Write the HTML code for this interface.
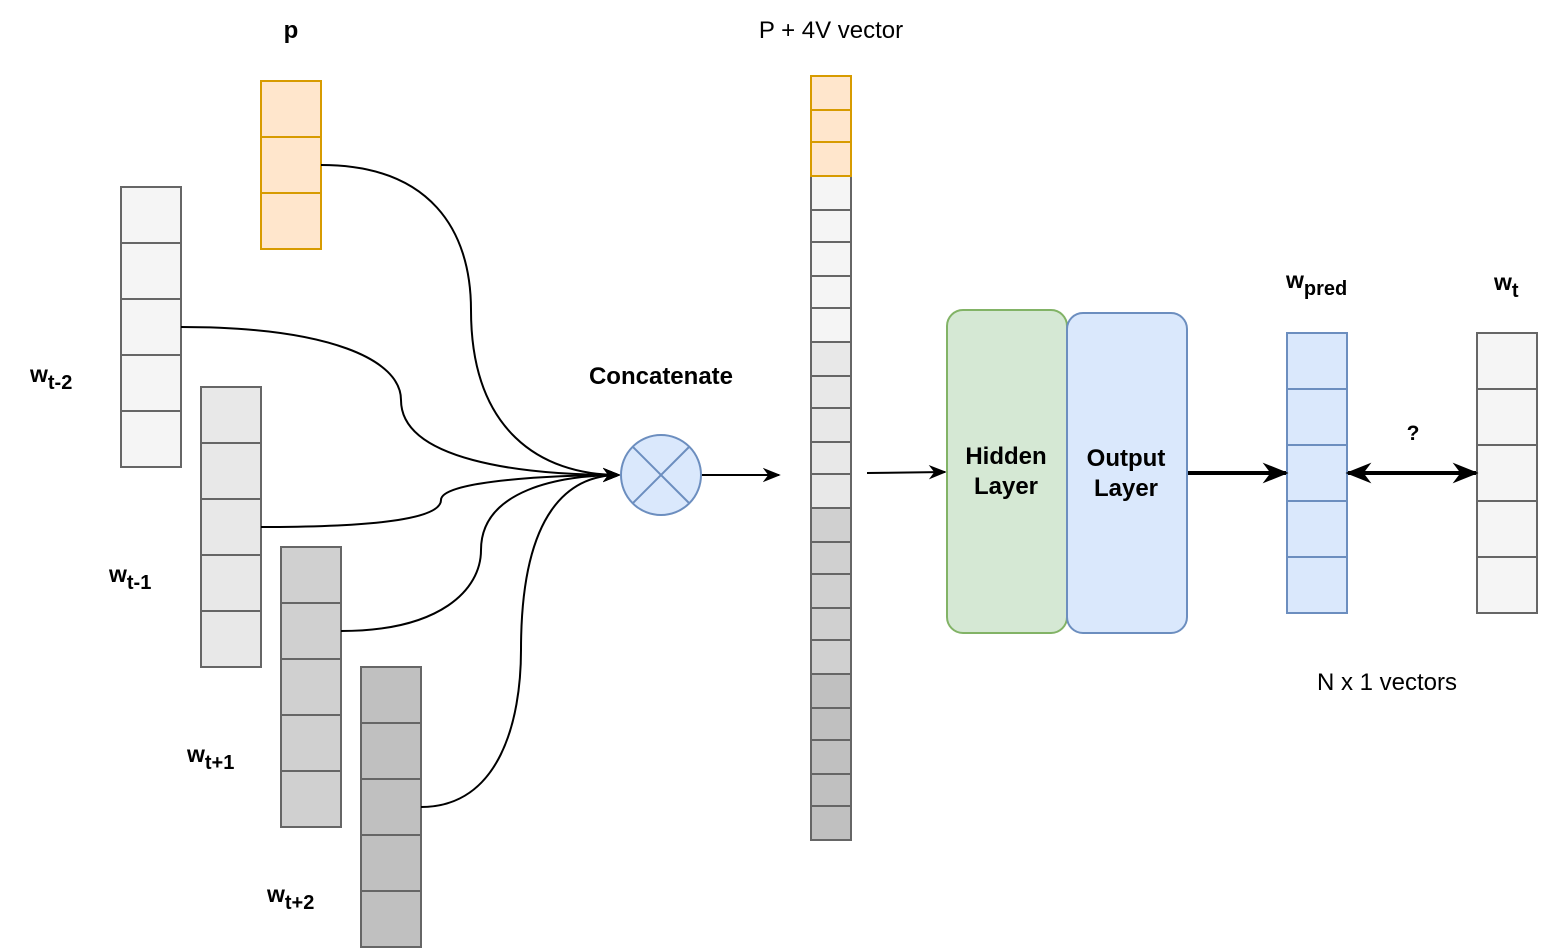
<!DOCTYPE html>
<html><head><meta charset="utf-8"><style>body{margin:0;background:#fff}svg{display:block}text{font-family:"Liberation Sans",Arial,sans-serif}</style></head><body>
<svg width="1548" height="948" viewBox="0 0 1548 948" xmlns="http://www.w3.org/2000/svg">
<defs>
<marker id="a" viewBox="0 0 10 10" refX="9" refY="5" markerWidth="18" markerHeight="18" orient="auto" markerUnits="userSpaceOnUse"><path d="M0,1 L10,5 L0,9 L3,5 z" fill="#000"/></marker>
<marker id="a2" viewBox="0 0 10 10" refX="9" refY="5" markerWidth="26" markerHeight="26" orient="auto-start-reverse" markerUnits="userSpaceOnUse"><path d="M0,1 L10,5 L0,9 L3,5 z" fill="#000"/></marker>
<marker id="a1" viewBox="0 0 10 10" refX="9" refY="5" markerWidth="26" markerHeight="26" orient="auto" markerUnits="userSpaceOnUse"><path d="M0,1 L10,5 L0,9 L3,5 z" fill="#000"/></marker>
</defs>
<g stroke="#666" stroke-width="2">
<g fill="#f5f5f5"><rect x="121" y="187" width="60" height="56"/><rect x="121" y="243" width="60" height="56"/><rect x="121" y="299" width="60" height="56"/><rect x="121" y="355" width="60" height="56"/><rect x="121" y="411" width="60" height="56"/></g>
<g fill="#e8e8e8"><rect x="201" y="387" width="60" height="56"/><rect x="201" y="443" width="60" height="56"/><rect x="201" y="499" width="60" height="56"/><rect x="201" y="555" width="60" height="56"/><rect x="201" y="611" width="60" height="56"/></g>
<g fill="#d0d0d0"><rect x="281" y="547" width="60" height="56"/><rect x="281" y="603" width="60" height="56"/><rect x="281" y="659" width="60" height="56"/><rect x="281" y="715" width="60" height="56"/><rect x="281" y="771" width="60" height="56"/></g>
<g fill="#c0c0c0"><rect x="361" y="667" width="60" height="56"/><rect x="361" y="723" width="60" height="56"/><rect x="361" y="779" width="60" height="56"/><rect x="361" y="835" width="60" height="56"/><rect x="361" y="891" width="60" height="56"/></g>
</g>
<g stroke="#d79b00" stroke-width="2" fill="#ffe6cc"><rect x="261" y="81" width="60" height="56"/><rect x="261" y="137" width="60" height="56"/><rect x="261" y="193" width="60" height="56"/></g>
<g stroke="#666" stroke-width="2">
<g fill="#f5f5f5"><rect x="811" y="176" width="40" height="34"/><rect x="811" y="210" width="40" height="32"/><rect x="811" y="242" width="40" height="34"/><rect x="811" y="276" width="40" height="32"/><rect x="811" y="308" width="40" height="34"/></g>
<g fill="#e8e8e8"><rect x="811" y="342" width="40" height="34"/><rect x="811" y="376" width="40" height="32"/><rect x="811" y="408" width="40" height="34"/><rect x="811" y="442" width="40" height="32"/><rect x="811" y="474" width="40" height="34"/></g>
<g fill="#d0d0d0"><rect x="811" y="508" width="40" height="34"/><rect x="811" y="542" width="40" height="32"/><rect x="811" y="574" width="40" height="34"/><rect x="811" y="608" width="40" height="32"/><rect x="811" y="640" width="40" height="34"/></g>
<g fill="#c0c0c0"><rect x="811" y="674" width="40" height="34"/><rect x="811" y="708" width="40" height="32"/><rect x="811" y="740" width="40" height="34"/><rect x="811" y="774" width="40" height="32"/><rect x="811" y="806" width="40" height="34"/></g>
</g>
<g stroke="#d79b00" stroke-width="2" fill="#ffe6cc"><rect x="811" y="76" width="40" height="34"/><rect x="811" y="110" width="40" height="32"/><rect x="811" y="142" width="40" height="34"/></g>
<g fill="none" stroke="#000" stroke-width="2">
<path d="M321,165 C430,165 471,230 471,310 C471,430 540,475 619,475" marker-end="url(#a)"/>
<path d="M181,327 C330,327 401,360 401,400 C401,460 520,475 619,475" marker-end="url(#a)"/>
<path d="M261,527 C400,527 441,515 441,500 C441,480 560,475 619,475" marker-end="url(#a)"/>
<path d="M341,631 C440,631 481,590 481,550 C481,490 560,475 619,475" marker-end="url(#a)"/>
<path d="M421,807 C500,807 521,720 521,650 C521,510 570,475 619,475" marker-end="url(#a)"/>
<path d="M701,475 L779,475" marker-end="url(#a)"/>
<path d="M867,473 L945,472" marker-end="url(#a)"/>
</g>
<circle cx="661" cy="475" r="40" fill="#dae8fc" stroke="#6c8ebf" stroke-width="2"/>
<path d="M633,447 L689,503 M689,447 L633,503" stroke="#6c8ebf" stroke-width="2"/>
<rect x="947" y="310" width="120" height="323" rx="16" fill="#d5e8d4" stroke="#82b366" stroke-width="2"/>
<rect x="1067" y="313" width="120" height="320" rx="16" fill="#dae8fc" stroke="#6c8ebf" stroke-width="2"/>
<g stroke="#6c8ebf" stroke-width="2" fill="#dae8fc"><rect x="1287" y="333" width="60" height="56"/><rect x="1287" y="389" width="60" height="56"/><rect x="1287" y="445" width="60" height="56"/><rect x="1287" y="501" width="60" height="56"/><rect x="1287" y="557" width="60" height="56"/></g>
<g stroke="#666" stroke-width="2" fill="#f5f5f5"><rect x="1477" y="333" width="60" height="56"/><rect x="1477" y="389" width="60" height="56"/><rect x="1477" y="445" width="60" height="56"/><rect x="1477" y="501" width="60" height="56"/><rect x="1477" y="557" width="60" height="56"/></g>
<path d="M1188,473 L1286,473" stroke="#000" stroke-width="4" marker-end="url(#a1)"/>
<path d="M1348,473 L1476,473" stroke="#000" stroke-width="4" marker-start="url(#a2)" marker-end="url(#a2)"/>
<g font-size="24" text-anchor="middle" font-weight="bold">
<text x="1006" y="464">Hidden</text><text x="1006" y="494">Layer</text>
<text x="1126" y="466">Output</text><text x="1126" y="496">Layer</text>
<text x="661" y="384">Concatenate</text>
<text x="291" y="38">p</text>
<text x="1413" y="440" font-size="21">?</text>
</g>
<g font-size="24" text-anchor="middle">
<text x="831" y="38">P + 4V vector</text>
<text x="1387" y="690">N x 1 vectors</text>
</g>
<g font-size="23" font-weight="bold">
<text x="30" y="382">w<tspan font-size="20" dy="7">t-2</tspan></text>
<text x="109" y="582">w<tspan font-size="20" dy="7">t-1</tspan></text>
<text x="187" y="762">w<tspan font-size="20" dy="7">t+1</tspan></text>
<text x="267" y="902">w<tspan font-size="20" dy="7">t+2</tspan></text>
<text x="1286" y="288">w<tspan font-size="20" dy="7">pred</tspan></text>
<text x="1494" y="290">w<tspan font-size="20" dy="7">t</tspan></text>
</g>
</svg>
</body></html>
